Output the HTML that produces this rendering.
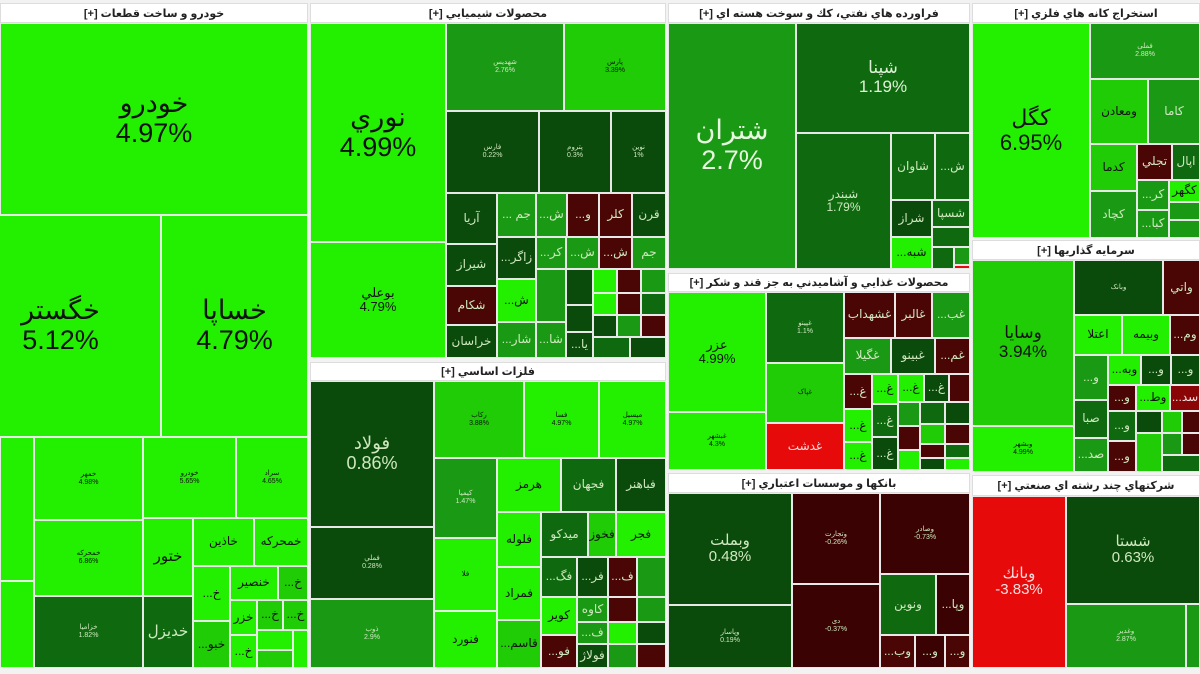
<!DOCTYPE html>
<html><head><meta charset="utf-8"><style>
body{margin:0;width:1200px;height:674px;background:#f2f2f2;position:relative;overflow:hidden;font-family:"Liberation Sans","DejaVu Sans",sans-serif}
.c{position:absolute;box-sizing:border-box;border:1px solid #e8e8e8;display:flex;flex-direction:column;align-items:center;justify-content:center;text-align:center;color:#cfe8c0;font-size:12px;line-height:1.1;overflow:hidden;direction:rtl}
.c span{display:block}
.h{position:absolute;box-sizing:border-box;background:#fff;border:1px solid #ddd;color:#222;font-size:11px;display:flex;align-items:center;justify-content:center;direction:rtl;font-weight:bold}
.b{background:#22f000;color:#111}.l{background:#1fcc05;color:#111}.m{background:#1a9a14}.d{background:#0f6a0f}.k{background:#0a4a0a}.r{background:#4a0505}.R{background:#e60a0a;color:#f4e0e0}
.L{font-size:27px}.M{font-size:15px}.S{font-size:7px}
</style></head><body>
<!-- auto -->
<div class="h" style="left:0;top:3px;width:308px;height:20px">خودرو و ساخت قطعات [+]</div>
<div class="c b L" style="left:0;top:23px;width:308px;height:192px">خودرو<br>4.97%</div>
<div class="c b L" style="left:-40px;top:215px;width:201px;height:222px">خگستر<br>5.12%</div>
<div class="c b L" style="left:161px;top:215px;width:147px;height:222px">خساپا<br>4.79%</div>
<div class="c b" style="left:0;top:437px;width:34px;height:144px"></div>
<div class="c b" style="left:0;top:581px;width:34px;height:87px"></div>
<div class="c b S" style="left:34px;top:437px;width:109px;height:83px">خمهر<br>4.98%</div>
<div class="c b S" style="left:143px;top:437px;width:93px;height:81px">خودرو<br>5.65%</div>
<div class="c b S" style="left:236px;top:437px;width:72px;height:81px">سراد<br>4.65%</div>
<div class="c b S" style="left:34px;top:520px;width:109px;height:76px">خمحرکه<br>6.86%</div>
<div class="c b M" style="left:143px;top:518px;width:50px;height:78px">ختور</div>
<div class="c b" style="left:193px;top:518px;width:61px;height:48px">خاذين</div>
<div class="c b" style="left:254px;top:518px;width:54px;height:48px">خمحرکه</div>
<div class="c d S" style="left:34px;top:596px;width:109px;height:72px">خزامیا<br>1.82%</div>
<div class="c d M" style="left:143px;top:596px;width:50px;height:72px">خديزل</div>
<div class="c b" style="left:193px;top:566px;width:37px;height:55px">خ...</div>
<div class="c b" style="left:230px;top:566px;width:48px;height:34px">خنصير</div>
<div class="c l" style="left:278px;top:566px;width:30px;height:34px">خ...</div>
<div class="c l" style="left:193px;top:621px;width:37px;height:47px">خبو...</div>
<div class="c b" style="left:230px;top:600px;width:27px;height:35px">خزر</div>
<div class="c l" style="left:257px;top:600px;width:26px;height:30px">خ...</div>
<div class="c l" style="left:283px;top:600px;width:25px;height:30px">خ...</div>
<div class="c b" style="left:230px;top:635px;width:27px;height:33px">خ...</div>
<div class="c b" style="left:257px;top:630px;width:36px;height:20px"></div>
<div class="c l" style="left:257px;top:650px;width:36px;height:18px"></div>
<div class="c b" style="left:293px;top:630px;width:15px;height:38px"></div>
<!-- chemicals -->
<div class="h" style="left:310px;top:3px;width:356px;height:20px">محصولات شيميايي [+]</div>
<div class="c b L" style="left:310px;top:23px;width:136px;height:219px">نوري<br>4.99%</div>
<div class="c b" style="left:310px;top:242px;width:136px;height:116px;font-size:13px">بوعلي<br>4.79%</div>
<div class="c m S" style="left:446px;top:23px;width:118px;height:88px">شهدیس<br>2.76%</div>
<div class="c l S" style="left:564px;top:23px;width:102px;height:88px">پارس<br>3.39%</div>
<div class="c k S" style="left:446px;top:111px;width:93px;height:82px">فارس<br>0.22%</div>
<div class="c k S" style="left:539px;top:111px;width:72px;height:82px">پتروم<br>0.3%</div>
<div class="c k S" style="left:611px;top:111px;width:55px;height:82px">نوین<br>1%</div>
<div class="c k" style="left:446px;top:193px;width:51px;height:51px">آريا</div>
<div class="c m" style="left:497px;top:193px;width:39px;height:44px">جم ...</div>
<div class="c m" style="left:536px;top:193px;width:31px;height:44px">ش...</div>
<div class="c r" style="left:567px;top:193px;width:32px;height:44px">و...</div>
<div class="c r" style="left:599px;top:193px;width:33px;height:44px">كلر</div>
<div class="c k" style="left:632px;top:193px;width:34px;height:44px">قرن</div>
<div class="c k" style="left:446px;top:244px;width:51px;height:42px">شيراز</div>
<div class="c k" style="left:497px;top:237px;width:39px;height:42px">زاگر...</div>
<div class="c m" style="left:536px;top:237px;width:30px;height:32px">كر...</div>
<div class="c m" style="left:566px;top:237px;width:33px;height:32px">ش...</div>
<div class="c r" style="left:599px;top:237px;width:33px;height:32px">ش...</div>
<div class="c m" style="left:632px;top:237px;width:34px;height:32px">جم</div>
<div class="c r" style="left:446px;top:286px;width:51px;height:39px">شكام</div>
<div class="c k" style="left:446px;top:325px;width:51px;height:33px">خراسان</div>
<div class="c b" style="left:497px;top:279px;width:39px;height:43px">ش...</div>
<div class="c m" style="left:497px;top:322px;width:39px;height:36px">شار...</div>
<div class="c m" style="left:536px;top:269px;width:30px;height:53px"></div>
<div class="c m" style="left:536px;top:322px;width:30px;height:36px">شا...</div>
<div class="c k" style="left:566px;top:269px;width:27px;height:36px"></div>
<div class="c k" style="left:566px;top:305px;width:27px;height:27px"></div>
<div class="c k" style="left:566px;top:332px;width:27px;height:26px">يا...</div>
<div class="c b" style="left:593px;top:269px;width:24px;height:24px"></div>
<div class="c r" style="left:617px;top:269px;width:24px;height:24px"></div>
<div class="c m" style="left:641px;top:269px;width:25px;height:24px"></div>
<div class="c b" style="left:593px;top:293px;width:24px;height:22px"></div>
<div class="c r" style="left:617px;top:293px;width:24px;height:22px"></div>
<div class="c d" style="left:641px;top:293px;width:25px;height:22px"></div>
<div class="c k" style="left:593px;top:315px;width:24px;height:22px"></div>
<div class="c m" style="left:617px;top:315px;width:24px;height:22px"></div>
<div class="c r" style="left:641px;top:315px;width:25px;height:22px"></div>
<div class="c d" style="left:593px;top:337px;width:37px;height:21px"></div>
<div class="c k" style="left:630px;top:337px;width:36px;height:21px"></div>
<!-- metals -->
<div class="h" style="left:310px;top:362px;width:356px;height:19px">فلزات اساسي [+]</div>
<div class="c k L" style="left:310px;top:381px;width:124px;height:146px;font-size:18px">فولاد<br>0.86%</div>
<div class="c k S" style="left:310px;top:527px;width:124px;height:72px">فملي<br>0.28%</div>
<div class="c m S" style="left:310px;top:599px;width:124px;height:69px">ذوب<br>2.9%</div>
<div class="c l S" style="left:434px;top:381px;width:90px;height:77px">رکاب<br>3.88%</div>
<div class="c b S" style="left:524px;top:381px;width:75px;height:77px">فسا<br>4.97%</div>
<div class="c b S" style="left:599px;top:381px;width:67px;height:77px">میسیل<br>4.97%</div>
<div class="c m S" style="left:434px;top:458px;width:63px;height:80px">کیمیا<br>1.47%</div>
<div class="c b S" style="left:434px;top:538px;width:63px;height:73px">فلا</div>
<div class="c b" style="left:434px;top:611px;width:63px;height:57px">فنورد</div>
<div class="c b" style="left:497px;top:458px;width:64px;height:54px">هرمز</div>
<div class="c d" style="left:561px;top:458px;width:55px;height:54px">فجهان</div>
<div class="c k" style="left:616px;top:458px;width:50px;height:54px">فباهنر</div>
<div class="c b" style="left:497px;top:512px;width:44px;height:55px">فلوله</div>
<div class="c b" style="left:497px;top:567px;width:44px;height:53px">فمراد</div>
<div class="c l" style="left:497px;top:620px;width:44px;height:48px">قاسم...</div>
<div class="c d" style="left:541px;top:512px;width:47px;height:45px">ميدكو</div>
<div class="c l" style="left:588px;top:512px;width:28px;height:45px">فخوز</div>
<div class="c b" style="left:616px;top:512px;width:50px;height:45px">فجر</div>
<div class="c d" style="left:541px;top:557px;width:36px;height:40px">فگ...</div>
<div class="c k" style="left:577px;top:557px;width:31px;height:40px">فر...</div>
<div class="c r" style="left:608px;top:557px;width:29px;height:40px">ف...</div>
<div class="c m" style="left:637px;top:557px;width:29px;height:40px"></div>
<div class="c b" style="left:541px;top:597px;width:36px;height:38px">كوير</div>
<div class="c m" style="left:577px;top:597px;width:31px;height:25px">كاوه</div>
<div class="c r" style="left:608px;top:597px;width:29px;height:25px"></div>
<div class="c m" style="left:637px;top:597px;width:29px;height:25px"></div>
<div class="c m" style="left:577px;top:622px;width:31px;height:22px">ف...</div>
<div class="c b" style="left:608px;top:622px;width:29px;height:22px"></div>
<div class="c k" style="left:637px;top:622px;width:29px;height:22px"></div>
<div class="c r" style="left:541px;top:635px;width:36px;height:33px">فو...</div>
<div class="c k" style="left:577px;top:644px;width:31px;height:24px">فولاژ</div>
<div class="c m" style="left:608px;top:644px;width:29px;height:24px"></div>
<div class="c r" style="left:637px;top:644px;width:29px;height:24px"></div>
<!-- oil -->
<div class="h" style="left:668px;top:3px;width:302px;height:20px">فراورده هاي نفتي، كك و سوخت هسته اي [+]</div>
<div class="c m L" style="left:668px;top:23px;width:128px;height:246px;color:#e8f8e0">شتران<br>2.7%</div>
<div class="c d L" style="left:796px;top:23px;width:174px;height:110px;font-size:17px;color:#e0f0d8">شپنا<br>1.19%</div>
<div class="c d" style="left:796px;top:133px;width:95px;height:136px;font-size:12px">شبندر<br>1.79%</div>
<div class="c d" style="left:891px;top:133px;width:44px;height:67px">شاوان</div>
<div class="c d" style="left:935px;top:133px;width:35px;height:67px">ش...</div>
<div class="c k" style="left:891px;top:200px;width:41px;height:37px">شراز</div>
<div class="c d" style="left:932px;top:200px;width:38px;height:27px">شسپا</div>
<div class="c b" style="left:891px;top:237px;width:41px;height:32px">شبه...</div>
<div class="c d" style="left:932px;top:227px;width:38px;height:20px"></div>
<div class="c d" style="left:932px;top:247px;width:22px;height:22px"></div>
<div class="c m" style="left:954px;top:247px;width:16px;height:18px"></div>
<div class="c R" style="left:954px;top:265px;width:16px;height:4px"></div>
<!-- food -->
<div class="h" style="left:668px;top:273px;width:302px;height:19px">محصولات غذايي و آشاميدني به جز قند و شكر [+]</div>
<div class="c b" style="left:668px;top:292px;width:98px;height:120px;font-size:13px">عزر<br>4.99%</div>
<div class="c b S" style="left:668px;top:412px;width:98px;height:58px">غبشهر<br>4.3%</div>
<div class="c d S" style="left:766px;top:292px;width:78px;height:71px">غپینو<br>1.1%</div>
<div class="c l S" style="left:766px;top:363px;width:78px;height:60px">غپاک</div>
<div class="c R" style="left:766px;top:423px;width:78px;height:47px">غدشت</div>
<div class="c r" style="left:844px;top:292px;width:51px;height:46px">غشهداب</div>
<div class="c r" style="left:895px;top:292px;width:37px;height:46px">غالبر</div>
<div class="c m" style="left:932px;top:292px;width:38px;height:46px">غب...</div>
<div class="c m" style="left:844px;top:338px;width:47px;height:36px">غگيلا</div>
<div class="c k" style="left:891px;top:338px;width:44px;height:36px">غبينو</div>
<div class="c r" style="left:935px;top:338px;width:35px;height:36px">غم...</div>
<div class="c r" style="left:844px;top:374px;width:28px;height:35px">غ...</div>
<div class="c b" style="left:872px;top:374px;width:26px;height:30px">غ...</div>
<div class="c b" style="left:898px;top:374px;width:26px;height:28px">غ...</div>
<div class="c k" style="left:924px;top:374px;width:25px;height:28px">غ...</div>
<div class="c r" style="left:949px;top:374px;width:21px;height:28px"></div>
<div class="c b" style="left:844px;top:409px;width:28px;height:33px">غ...</div>
<div class="c d" style="left:872px;top:404px;width:26px;height:33px">غ...</div>
<div class="c m" style="left:898px;top:402px;width:22px;height:24px"></div>
<div class="c d" style="left:920px;top:402px;width:25px;height:22px"></div>
<div class="c k" style="left:945px;top:402px;width:25px;height:22px"></div>
<div class="c b" style="left:844px;top:442px;width:28px;height:28px">غ...</div>
<div class="c k" style="left:872px;top:437px;width:26px;height:33px">غ...</div>
<div class="c r" style="left:898px;top:426px;width:22px;height:24px"></div>
<div class="c l" style="left:920px;top:424px;width:25px;height:20px"></div>
<div class="c r" style="left:945px;top:424px;width:25px;height:20px"></div>
<div class="c b" style="left:898px;top:450px;width:22px;height:20px"></div>
<div class="c r" style="left:920px;top:444px;width:25px;height:14px"></div>
<div class="c d" style="left:945px;top:444px;width:25px;height:14px"></div>
<div class="c k" style="left:920px;top:458px;width:25px;height:12px"></div>
<div class="c b" style="left:945px;top:458px;width:25px;height:12px"></div>
<!-- banks -->
<div class="h" style="left:668px;top:473px;width:302px;height:20px">بانكها و موسسات اعتباري [+]</div>
<div class="c k L" style="left:668px;top:493px;width:124px;height:112px;font-size:15px">وبملت<br>0.48%</div>
<div class="c k S" style="left:668px;top:605px;width:124px;height:63px">وپاسار<br>0.19%</div>
<div class="c r S" style="left:792px;top:493px;width:88px;height:91px;background:#3a0202"><span>وتجارت</span><span dir="ltr">-0.26%</span></div>
<div class="c r S" style="left:792px;top:584px;width:88px;height:84px;background:#3a0202"><span>دی</span><span dir="ltr">-0.37%</span></div>
<div class="c r S" style="left:880px;top:493px;width:90px;height:81px;background:#3a0202"><span>وصادر</span><span dir="ltr">-0.73%</span></div>
<div class="c d" style="left:880px;top:574px;width:56px;height:61px">ونوين</div>
<div class="c r" style="left:936px;top:574px;width:34px;height:61px;background:#3a0202">وپا...</div>
<div class="c r" style="left:880px;top:635px;width:35px;height:33px">وب...</div>
<div class="c r" style="left:915px;top:635px;width:30px;height:33px;background:#3a0202">و...</div>
<div class="c r" style="left:945px;top:635px;width:25px;height:33px">و...</div>
<!-- mining -->
<div class="h" style="left:972px;top:3px;width:228px;height:20px">استخراج كانه هاي فلزي [+]</div>
<div class="c b L" style="left:972px;top:23px;width:118px;height:215px;font-size:22px">كگل<br>6.95%</div>
<div class="c m S" style="left:1090px;top:23px;width:110px;height:56px">فملی<br>2.88%</div>
<div class="c l" style="left:1090px;top:79px;width:58px;height:65px">ومعادن</div>
<div class="c m" style="left:1148px;top:79px;width:52px;height:65px">كاما</div>
<div class="c l" style="left:1090px;top:144px;width:47px;height:47px">كدما</div>
<div class="c r" style="left:1137px;top:144px;width:35px;height:36px">تجلي</div>
<div class="c d" style="left:1172px;top:144px;width:28px;height:36px">اپال</div>
<div class="c m" style="left:1090px;top:191px;width:47px;height:47px">كچاد</div>
<div class="c m" style="left:1137px;top:180px;width:32px;height:30px">كر...</div>
<div class="c b" style="left:1169px;top:180px;width:31px;height:22px">كگهر</div>
<div class="c m" style="left:1137px;top:210px;width:32px;height:28px">كبا...</div>
<div class="c m" style="left:1169px;top:202px;width:31px;height:18px"></div>
<div class="c m" style="left:1169px;top:220px;width:31px;height:18px"></div>
<!-- investment -->
<div class="h" style="left:972px;top:240px;width:228px;height:20px">سرمايه گذاريها [+]</div>
<div class="c l L" style="left:972px;top:260px;width:102px;height:166px;font-size:17px">وسايا<br>3.94%</div>
<div class="c b S" style="left:972px;top:426px;width:102px;height:46px">وبشهر<br>4.99%</div>
<div class="c k S" style="left:1074px;top:260px;width:89px;height:55px">وبانک</div>
<div class="c r" style="left:1163px;top:260px;width:37px;height:55px">واتي</div>
<div class="c b" style="left:1074px;top:315px;width:48px;height:40px">اعتلا</div>
<div class="c b" style="left:1122px;top:315px;width:48px;height:40px">وبيمه</div>
<div class="c r" style="left:1170px;top:315px;width:30px;height:40px">وم...</div>
<div class="c m" style="left:1074px;top:355px;width:34px;height:45px">و...</div>
<div class="c b" style="left:1108px;top:355px;width:33px;height:30px">وبه...</div>
<div class="c k" style="left:1141px;top:355px;width:30px;height:30px">و...</div>
<div class="c k" style="left:1171px;top:355px;width:29px;height:30px">و...</div>
<div class="c d" style="left:1074px;top:400px;width:34px;height:38px">صبا</div>
<div class="c m" style="left:1074px;top:438px;width:34px;height:34px">صد...</div>
<div class="c r" style="left:1108px;top:385px;width:28px;height:26px">و...</div>
<div class="c b" style="left:1136px;top:385px;width:34px;height:26px">وط...</div>
<div class="c R" style="left:1170px;top:385px;width:30px;height:26px;background:#8a0505">سد...</div>
<div class="c d" style="left:1108px;top:411px;width:28px;height:30px">و...</div>
<div class="c r" style="left:1108px;top:441px;width:28px;height:31px">و...</div>
<div class="c k" style="left:1136px;top:411px;width:26px;height:22px"></div>
<div class="c l" style="left:1162px;top:411px;width:20px;height:22px"></div>
<div class="c r" style="left:1182px;top:411px;width:18px;height:22px"></div>
<div class="c l" style="left:1136px;top:433px;width:26px;height:39px"></div>
<div class="c m" style="left:1162px;top:433px;width:20px;height:22px"></div>
<div class="c r" style="left:1182px;top:433px;width:18px;height:22px"></div>
<div class="c d" style="left:1162px;top:455px;width:38px;height:17px"></div>
<!-- multi -->
<div class="h" style="left:972px;top:475px;width:228px;height:21px">شركتهاي چند رشته اي صنعتي [+]</div>
<div class="c R L" style="left:972px;top:496px;width:94px;height:172px;font-size:15px"><span>وبانك</span><span dir="ltr">-3.83%</span></div>
<div class="c k L" style="left:1066px;top:496px;width:134px;height:108px;font-size:15px">شستا<br>0.63%</div>
<div class="c m S" style="left:1066px;top:604px;width:120px;height:64px">وغدير<br>2.87%</div>
<div class="c m" style="left:1186px;top:604px;width:14px;height:64px"></div>
</body></html>
